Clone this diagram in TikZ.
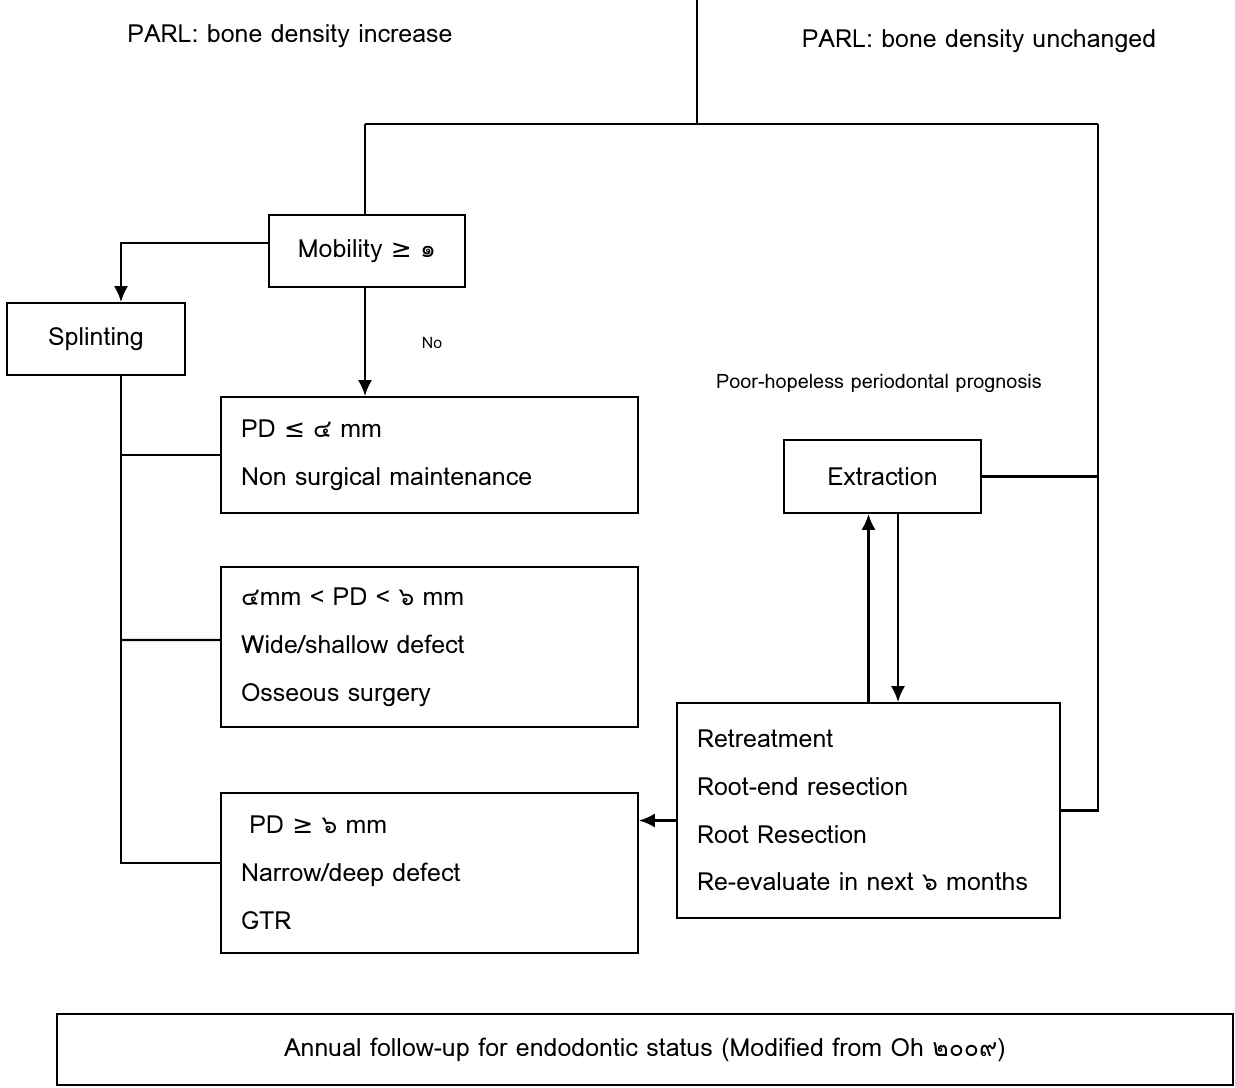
\documentclass[tikz,border=0pt]{standalone}
\usepackage{fontspec}
\usetikzlibrary{arrows.meta}
\setmainfont[Script=Thai]{Loma}
\newfontfamily\symfont{DejaVu Sans}
\newcommand{\GE}{{\symfont ≥}}
\newcommand{\LE}{{\symfont ≤}}
\begin{document}
\begin{tikzpicture}[>={Latex[length=9pt,width=8pt]}, x=0.02cm, y=-0.02cm, line width=1.2pt,
    font=\fontsize{14.2}{27.2}\selectfont,
    box/.style={draw, inner sep=0pt, minimum height=1.44cm},
    listbox/.style={draw, inner xsep=0.4cm, inner ysep=0pt, minimum width=8.34cm, text width=7.54cm, align=left}]
        \useasboundingbox (0,0) rectangle (1235,1088);
        % labels at the top
        \node (incr) at (290,36) {PARL: bone density increase};
        \node (unch) at (979,41) {PARL: bone density unchanged};
        \coordinate (top) at (697,0);
        \coordinate (split) at (697,124);
        \coordinate (lft) at (365,124);
        \coordinate (rgt) at (1098,124);
        % boxes
        \node[box, minimum width=3.92cm] (mob) at (367,251) {Mobility \GE{} ๑};
        \node[box, minimum width=3.56cm] (splint) at (96,339) {Splinting};
        \node[listbox, minimum height=2.32cm] (pdA) at (429.5,455) {PD \LE{} ๔ mm\\Non surgical maintenance};
        \node[listbox, minimum height=3.2cm] (pdB) at (429.5,647) {๔mm < PD < ๖ mm\\Wide/shallow defect\\Osseous surgery};
        \node[listbox, minimum height=3.2cm] (pdC) at (429.5,873) {\ PD \GE{} ๖ mm\\Narrow/deep defect\\GTR};
        \node[box, minimum width=3.94cm, minimum height=1.46cm] (extr) at (882.5,476.5) {Extraction};
        \node[listbox, minimum width=7.62cm, text width=6.86cm, minimum height=4.3cm] (retr) at (868.5,810.5) {Retreatment\\Root-end resection\\Root Resection\\Re-evaluate in next ๖ months};
        \node[box, minimum width=23.52cm, minimum height=1.42cm] (annual) at (645,1049.5) {Annual follow-up for endodontic status (Modified from Oh ๒๐๐๙)};
        \node[font=\fontsize{11.3}{13}\selectfont] (poor) at (879,383) {Poor-hopeless periodontal prognosis};
        \node (no) at (432,343) {\small No};
        % connectors
        \draw (top) -- (split);
        \draw (lft) -- (rgt);
        \draw (lft) -- (lft |- mob.north);
        \draw[->] ([yshift=0.16cm]mob.west) -| ([xshift=0.5cm]splint.north);
        \draw[->] (lft |- mob.south) -- (lft |- pdA.north);
        \draw ([xshift=0.5cm]splint.south) |- ([yshift=0.2cm]pdC.west);
        \draw ([xshift=0.5cm]splint.south |- pdA.west) -- (pdA.west);
        \draw ([xshift=0.5cm]splint.south |- pdB.west) ++(0,-7) -- ([yshift=0.14cm]pdB.west);
        \draw (extr.east) -- (rgt |- extr.east);
        \draw (rgt) |- (retr.east);
        \draw[->] (retr.north) -- (retr.north |- extr.south);
        \draw[->] ([xshift=0.31cm]extr.south) -- ([xshift=0.31cm]extr.south |- retr.north);
        \draw[->] ([yshift=-0.2cm]retr.west) -- ([yshift=-0.2cm]retr.west -| pdC.east);
    \end{tikzpicture}
\end{document}
